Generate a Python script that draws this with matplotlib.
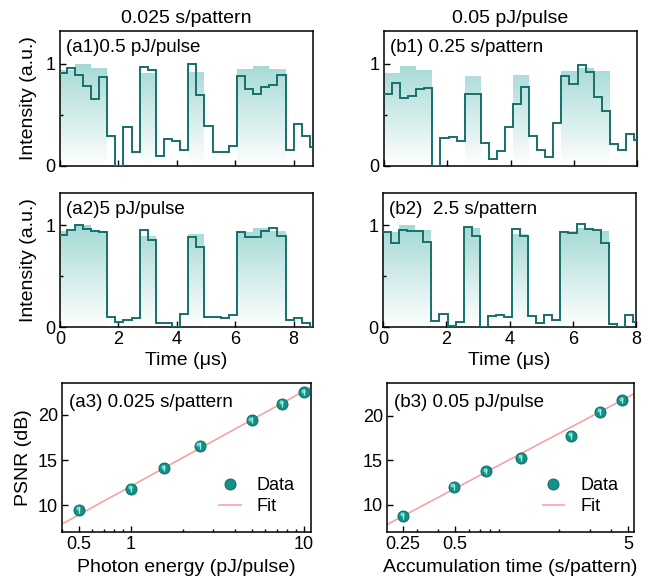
import numpy as np
import matplotlib
matplotlib.use("Agg")
import matplotlib.pyplot as plt
from matplotlib.colors import LinearSegmentedColormap
from matplotlib.transforms import ScaledTranslation
from matplotlib.lines import Line2D
from matplotlib.ticker import FixedLocator, NullFormatter

plt.rcParams['font.family'] = ['Liberation Sans', 'DejaVu Sans']

# ---------------- data ----------------
# time bins (us)
t0_a, bin_w_a = -0.048, 0.2774
t0_b, bin_w_b = 0.0, 0.255

meas_a1 = [0.905, 0.96, 0.89, 0.78, 0.66, 0.87, 0.295, 0.0, 0.38, 0.14, 0.97, 0.935, 0.10, 0.265, 0.24, 0.157,
           1.0, 0.69, 0.39, 0.14, 0.14, 0.2, 0.88, 0.75, 0.70, 0.77, 0.79, 0.885, 0.157, 0.41, 0.29, 0.19]
gt_a1 = [0.94, 0.94, 1.0, 1.0, 0.955, 0.955, 0, 0, 0, 0, 0.905, 0.905, 0, 0, 0, 0,
         0.92, 0.92, 0, 0, 0, 0, 0.945, 0.945, 0.98, 0.98, 0.945, 0.945, 0, 0, 0, 0]

meas_a2 = [0.908, 0.957, 1.0, 0.967, 0.95, 0.934, 0.098, 0.05, 0.066, 0.089, 0.96, 0.86, 0.043, 0.043, 0.0, 0.13,
           0.89, 0.79, 0.098, 0.098, 0.089, 0.118, 0.934, 0.885, 0.885, 0.95, 0.977, 0.9, 0.066, 0.089, 0.04, 0.0]
gt_a2 = [0.95, 0.95, 1.0, 1.0, 0.95, 0.95, 0, 0, 0, 0, 0.9, 0.9, 0, 0, 0, 0,
         0.918, 0.918, 0, 0, 0, 0, 0.94, 0.94, 0.974, 0.974, 0.944, 0.944, 0, 0, 0, 0]

meas_b1 = [0.707, 0.81, 0.667, 0.687, 0.75, 0.758, 0.0, 0.27, 0.286, 0.24, 0.707, 0.707, 0.226, 0.064, 0.15, 0.38,
           0.606, 0.768, 0.293, 0.16, 0.09, 0.42, 0.88, 0.805, 0.99, 0.92, 0.67, 0.535, 0.22, 0.16, 0.313, 0.25]
gt_b1 = [0.91, 0.91, 0.976, 0.976, 0.94, 0.94, 0, 0, 0, 0, 0.88, 0.88, 0, 0, 0, 0,
         0.89, 0.89, 0, 0, 0, 0, 0.93, 0.93, 0.96, 0.96, 0.926, 0.926, 0, 0, 0, 0]

meas_b2 = [0.934, 0.826, 0.957, 0.944, 0.95, 0.836, 0.056, 0.125, 0.013, 0.05, 0.984, 0.9, 0.0, 0.105, 0.115, 0.098,
           0.967, 0.895, 0.105, 0.04, 0.12, 0.072, 0.934, 0.928, 1.016, 0.964, 0.96, 0.83, 0.026, 0.0, 0.115, 0.05]
gt_b2 = [0.934, 0.934, 1.0, 1.0, 0.96, 0.96, 0, 0, 0, 0, 0.977, 0.977, 0, 0, 0, 0,
         0.918, 0.918, 0, 0, 0, 0, 0.944, 0.944, 0.98, 0.98, 0.95, 0.95, 0, 0, 0, 0]

time_ticks = [0, 2, 4, 6, 8]

photon_energy = [0.5, 1, 1.56, 2.5, 5, 7.5, 10]
psnr_a3 = [9.5, 11.8, 14.1, 16.6, 19.4, 21.2, 22.5]
err_a3 = [0.35, 0.35, 0.35, 0.35, 0.35, 0.35, 0.35]
fit_a3 = (10.5, 12.1)   # slope per decade, value at x=1

acc_time = [0.25, 0.49, 0.76, 1.2, 2.35, 3.45, 4.62]
psnr_b3 = [8.7, 12.0, 13.75, 15.25, 17.7, 20.4, 21.7]
err_b3 = [0.35, 0.35, 0.35, 0.35, 0.35, 0.35, 0.35]
fit_b3 = (10.27, 14.9)

# ---------------- style ----------------
LINE_C = '#17706b'
FILL_TOP = '#a4d9d5'
BALL_C = '#139187'
BALL_EDGE = '#0b655f'
FIT_C = '#f5a3a3'
LAB_FS = 14
TICK_FS = 13
TXT_FS = 13.5

W, H = 662, 581
fig = plt.figure(figsize=(W / 100, H / 100), dpi=100)


def ax_px(x0, x1, y0, y1):
    return fig.add_axes([x0 / W, 1 - y1 / H, (x1 - x0) / W, (y1 - y0) / H])


def style(ax):
    for s in ax.spines.values():
        s.set_linewidth(1.1)
    ax.tick_params(which='both', direction='in', top=False, right=False,
                   labelsize=TICK_FS, width=1.0, pad=3)
    ax.tick_params(which='major', length=4)
    ax.tick_params(which='minor', length=2.5)


cmap = LinearSegmentedColormap.from_list('g', ['#ffffff', FILL_TOP])


def trace(ax, meas, gt, t0, w, xmax, label, xlabels):
    edges = t0 + w * np.arange(len(meas) + 1)
    patch = ax.stairs(gt, edges, fill=True, baseline=0, facecolor='none', edgecolor='none')
    grad = np.linspace(0, 1, 256).reshape(-1, 1)
    im = ax.imshow(grad, cmap=cmap, origin='lower', extent=(edges[0], edges[-1], 0, 1.0),
                   aspect='auto', zorder=1, interpolation='bilinear')
    im.set_clip_path(patch)
    ax.stairs(meas, edges, baseline=None, color=LINE_C, lw=1.4, zorder=3)
    ax.set_xlim(0, xmax)
    ax.set_ylim(0, 1.32)
    ax.set_yticks([0, 1])
    ax.set_yticklabels(['0', '1'])
    ax.yaxis.set_minor_locator(FixedLocator([0.5]))
    ax.set_xticks(time_ticks)
    style(ax)
    if xlabels:
        ax.set_xticklabels([str(t) for t in time_ticks])
        ax.set_xlabel('Time (μs)', fontsize=LAB_FS, labelpad=2.5)
    else:
        ax.tick_params(labelbottom=False)
    ax.text(0.024, 0.88, label, transform=ax.transAxes, fontsize=TXT_FS, va='center', ha='left')


def balls(ax, x, y, err):
    ax.plot(x, y, 'o', ms=8, mfc=BALL_C, mec=BALL_EDGE, mew=0.6, zorder=4, ls='none')
    off = ScaledTranslation(-0.8 / 72, 1.2 / 72, fig.dpi_scale_trans)
    ax.plot(x, y, 'o', ms=3, mfc='#6fd8cd', mec='none', zorder=5, ls='none',
            transform=ax.transData + off)
    ax.errorbar(x, y, yerr=err, fmt='none', ecolor='#a8f2ea', elinewidth=0.9, capsize=0, zorder=6)


def psnr_panel(ax, x, y, err, fit, xlim, ylim, majors, label, xlabel, ylabel):
    xf = np.geomspace(xlim[0], xlim[1], 60)
    ax.plot(xf, fit[0] * np.log10(xf) + fit[1], color=FIT_C, lw=1.2, zorder=2)
    balls(ax, x, y, err)
    ax.set_xscale('log')
    ax.set_xlim(*xlim)
    ax.set_ylim(*ylim)
    ax.xaxis.set_major_locator(FixedLocator(majors))
    ax.set_xticklabels([('%g' % m) for m in majors])
    ax.xaxis.set_minor_formatter(NullFormatter())
    ax.set_yticks([10, 15, 20])
    style(ax)
    ax.set_xlabel(xlabel, fontsize=LAB_FS, labelpad=4.5)
    if ylabel:
        ax.set_ylabel(ylabel, fontsize=LAB_FS, labelpad=4)
    ax.text(0.03, 0.87, label, transform=ax.transAxes, fontsize=TXT_FS, va='center', ha='left')
    h_data = Line2D([], [], marker='o', ms=8, mfc=BALL_C, mec=BALL_EDGE, mew=0.6, ls='none')
    h_fit = Line2D([], [], color=FIT_C, lw=1.2)
    ax.legend([h_data, h_fit], ['Data', 'Fit'], loc='upper left', bbox_to_anchor=(0.63, 0.37),
              frameon=False, fontsize=TICK_FS, handlelength=1.2, handletextpad=0.9,
              labelspacing=0.25, borderpad=0, borderaxespad=0)


a1 = ax_px(60, 313, 31, 166)
b1 = ax_px(384, 637, 31, 166)
a2 = ax_px(60, 313, 193, 327)
b2 = ax_px(383, 636, 193, 327)
a3 = ax_px(62, 311, 383, 532)
b3 = ax_px(387, 634, 383, 532)

trace(a1, meas_a1, gt_a1, t0_a, bin_w_a, 8.66, '(a1)0.5 pJ/pulse', False)
trace(a2, meas_a2, gt_a2, t0_a, bin_w_a, 8.66, '(a2)5 pJ/pulse', True)
trace(b1, meas_b1, gt_b1, t0_b, bin_w_b, 8.0, '(b1) 0.25 s/pattern', False)
trace(b2, meas_b2, gt_b2, t0_b, bin_w_b, 8.0, '(b2)  2.5 s/pattern', True)
a1.set_ylabel('Intensity (a.u.)', fontsize=LAB_FS, labelpad=6)
a2.set_ylabel('Intensity (a.u.)', fontsize=LAB_FS, labelpad=6)
a1.set_title('0.025 s/pattern', fontsize=LAB_FS, pad=6)
b1.set_title('0.05 pJ/pulse', fontsize=LAB_FS, pad=6)

psnr_panel(a3, photon_energy, psnr_a3, err_a3, fit_a3, (0.4, 11.03), (7.04, 23.52), [0.5, 1, 10],
           '(a3) 0.025 s/pattern', 'Photon energy (pJ/pulse)', 'PSNR (dB)')
psnr_panel(b3, acc_time, psnr_b3, err_b3, fit_b3, (0.202, 5.42), (6.92, 23.65), [0.25, 0.5, 5],
           '(b3) 0.05 pJ/pulse', 'Accumulation time (s/pattern)', None)

fig.savefig('out.png', dpi=100)
